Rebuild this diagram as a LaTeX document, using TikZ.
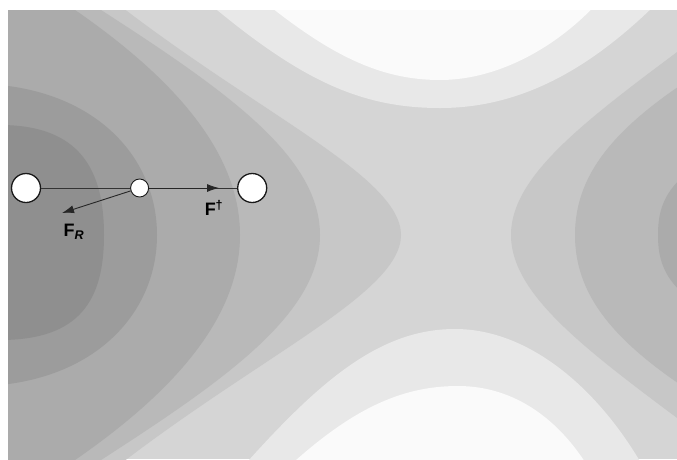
\documentclass[tikz,border=0pt]{standalone}
\usepackage{fontspec}
\setsansfont{Liberation Sans}
\usetikzlibrary{positioning, arrows.meta}
\definecolor{lvA}{gray}{0.56}
\definecolor{lvB}{gray}{0.61}
\definecolor{lvC}{gray}{0.67}
\definecolor{lvD}{gray}{0.725}
\definecolor{lvE}{gray}{0.78}
\definecolor{lvF}{gray}{0.835}
\definecolor{lvG}{gray}{0.91}
\definecolor{lvH}{gray}{0.98}

\begin{document}
\begin{tikzpicture}[
  x=1pt, y=-1pt,
  atom/.style={circle, draw=black!90, line width=1.3pt, fill=white,
               minimum size=29pt, inner sep=0pt},
  midatom/.style={atom, line width=0.9pt, minimum size=18pt},
  bond/.style={draw=black!80, line width=0.8pt},
  arr/.style={-{Latex[length=12pt, width=8pt]}, draw=black!85, line width=0.9pt},
  lbl/.style={font=\sffamily\bfseries\fontsize{18}{18}\selectfont, inner sep=0pt}
]
\useasboundingbox (0,0) rectangle (677,459);
\fill[white] (0,0) rectangle (677,459);

% contour bands
\begin{scope}
\clip (8,10) rectangle (677,459);
\fill[lvF] (8,10) rectangle (677,459);
% ridges above and below the pass
\fill[lvG] (205,0) .. controls (300,80) and (360,108) .. (440,108)
  .. controls (520,108) and (590,70) .. (660,0) -- cycle;
\fill[lvH] (262,0) .. controls (330,55) and (380,80) .. (440,80)
  .. controls (500,80) and (560,45) .. (600,0) -- cycle;
\fill[lvG] (240,470) .. controls (320,380) and (380,329) .. (455,329)
  .. controls (530,329) and (600,390) .. (645,470) -- cycle;
\fill[lvH] (285,470) .. controls (350,410) and (400,386) .. (458,386)
  .. controls (515,386) and (560,420) .. (590,470) -- cycle;
% left basin
\fill[lvE] (100,-10) .. controls (250,110) and (401,175) .. (401,235)
  .. controls (401,295) and (250,360) .. (100,480) -- (0,480) -- (0,-10) -- cycle;
\fill[lvD] (70,-10) .. controls (210,80) and (320,150) .. (320,235)
  .. controls (320,320) and (210,390) .. (70,480) -- (0,480) -- (0,-10) -- cycle;
\fill[lvC] (45,-10) .. controls (170,70) and (240,150) .. (240,235)
  .. controls (240,320) and (170,400) .. (45,480) -- (0,480) -- (0,-10) -- cycle;
\fill[lvB] (0,85) .. controls (100,95) and (157,160) .. (157,235)
  .. controls (157,310) and (100,375) .. (0,385) -- cycle;
\fill[lvA] (0,125) .. controls (80,125) and (104,170) .. (104,235)
  .. controls (104,300) and (80,340) .. (0,340) -- cycle;
% right basin
\fill[lvE] (720,20) .. controls (600,110) and (511,170) .. (511,235)
  .. controls (511,300) and (600,360) .. (720,450) -- cycle;
\fill[lvD] (720,60) .. controls (620,120) and (575,170) .. (575,235)
  .. controls (575,300) and (620,350) .. (720,410) -- cycle;
\fill[lvC] (720,150) .. controls (670,180) and (658,200) .. (658,235)
  .. controls (658,270) and (670,290) .. (720,320) -- cycle;
\end{scope}

% atoms
\node[atom] (a) at (26,188) {};
\node[midatom, right=89pt of a] (b) {};
\node[atom, right=88pt of b] (c) {};
\coordinate[right=70pt of b] (ftip);
\coordinate (frtip) at (62,213);

\draw[bond] (a) -- (b);
\draw[bond] (b) -- (c);
\draw[arr] (b) -- (ftip);
\draw[arr] (b) -- (frtip);

% forces
\node[lbl] (fdag) at (214,208) {F\textsuperscript{†}};
\node[lbl] (fr) at (74,232) {F\textsubscript{\itshape R}};
\end{tikzpicture}
\end{document}
